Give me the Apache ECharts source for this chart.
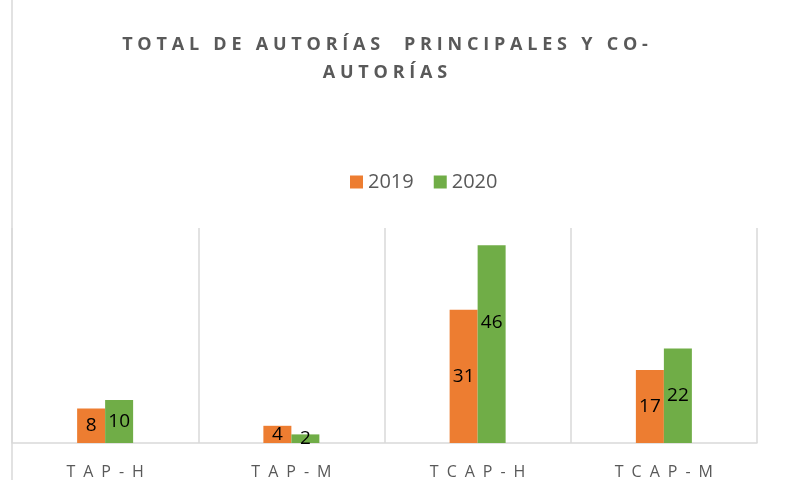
<!DOCTYPE html>
<html><head><meta charset="utf-8">
<script src="https://cdn.jsdelivr.net/npm/echarts@6/dist/echarts.min.js"></script>
<style>html,body{margin:0;padding:0;background:#fff}#c{width:811px;height:480px}</style>
</head><body><div id="c"></div>
<script>
const categories = ['TAP-H', 'TAP-M', 'TCAP-H', 'TCAP-M'];
const values2019 = [8, 4, 31, 17];
const values2020 = [10, 2, 46, 22];
const seriesNames = ['2019', '2020'];
const titleText = 'TOTAL DE AUTORÍAS  PRINCIPALES Y CO-\nAUTORÍAS';

function spaced(s, sp) { return s.split('\n').map(l => l.split('').join(sp)).join('\n'); }

const chart = echarts.init(document.getElementById('c'));
const labelStyle = { show: true, position: 'inside', color: '#000', fontSize: 19, fontFamily: 'Open Sans' };
chart.setOption({
  animation: false,
  color: ['#ED7D31', '#70AD47'],
  title: {
    text: spaced(titleText, '\u2009\u200A'),
    left: 380, top: 26, textAlign: 'center',
    textStyle: { fontFamily: 'Open Sans', fontWeight: 'bold', fontSize: 18, color: '#595959', lineHeight: 28 }
  },
  legend: {
    data: seriesNames, left: 345, top: 167,
    itemWidth: 13, itemHeight: 13, itemGap: 20, icon: 'rect',
    textStyle: { fontFamily: 'Open Sans', fontSize: 20, color: '#595959' }
  },
  grid: { left: 12, right: 54, top: 228, bottom: 37 },
  xAxis: {
    type: 'category', data: categories,
    axisLine: { lineStyle: { color: '#D9D9D9', width: 1.5 } },
    axisTick: { show: false },
    splitLine: { show: true, lineStyle: { color: '#D9D9D9', width: 1.5 } },
    axisLabel: { margin: 21, fontFamily: 'Open Sans', fontSize: 16, color: '#595959', formatter: v => spaced(v, '\u2002') }
  },
  yAxis: { type: 'value', min: 0, max: 50, show: false, splitLine: { show: false } },
  graphic: [{ type: 'line', shape: { x1: 12, y1: 0, x2: 12, y2: 480 }, style: { stroke: '#D9D9D9', lineWidth: 1.5 } }],
  series: [
    { name: seriesNames[0], type: 'bar', data: values2019, barWidth: 28, barGap: '0%', label: labelStyle },
    { name: seriesNames[1], type: 'bar', data: values2020.map((v, i) => i === 2 ? { value: v, label: { offset: [0, -22] } } : v), barWidth: 28, barGap: '0%', label: labelStyle }
  ]
});
</script></body></html>
